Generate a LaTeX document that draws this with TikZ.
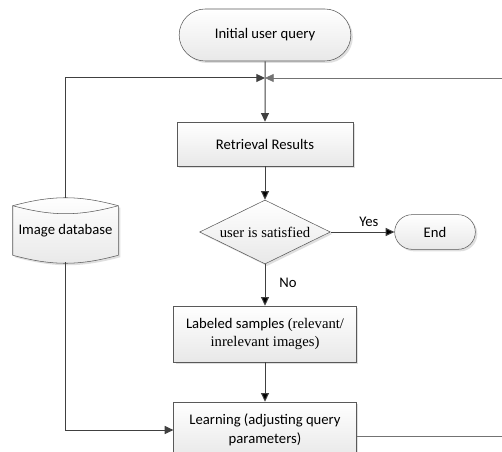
\documentclass[tikz,border=0pt]{standalone}
\usepackage{fontspec}
\setmainfont{Carlito}
\newfontfamily\timesfont{Liberation Serif}
\usetikzlibrary{positioning, arrows.meta, shapes.geometric, shapes.misc, shadows}
\tikzset{
    flowbox/.style={draw=black!65, rectangle, top color=white, bottom color=gray!18,
        drop shadow={shadow xshift=1.5pt, shadow yshift=-1.5pt, fill=black!25},
        align=center, inner sep=2pt, font=\fontsize{11}{14}\selectfont},
    terminal/.style={flowbox, rounded rectangle},
    decision/.style={flowbox, diamond, aspect=2, inner sep=0pt},
    storebox/.style={rectangle, minimum width=78.75pt, minimum height=36.75pt,
        font=\fontsize{11}{14}\selectfont},
    flow/.style={draw=black!75, line width=0.75pt, -{Triangle[length=6.5pt,width=6pt]}},
    feedback/.style={flow, draw=black!55, line width=0.6pt},
    lbl/.style={font=\fontsize{11}{14}\selectfont} }

\begin{document}
\begin{tikzpicture}[x=0.75pt, y=-0.75pt]
            \useasboundingbox (0,0) rectangle (502,452);
            \node[terminal, minimum width=132.75pt, minimum height=39pt] (query) at (265,35) {Initial user query};
			\coordinate (join) at (265,78);
			\node[flowbox, minimum width=132pt, minimum height=33pt] (results) at (265,144) {Retrieval Results};
			\node[decision, minimum width=98pt, minimum height=48pt] (check) at (265,232) {\timesfont user is satisfied};
			\node[terminal, minimum width=64.5pt, minimum height=26pt] (stop) at (435,232) {End};
			\node[flowbox, minimum width=137pt, minimum height=42pt] (samples) at (265,334)
			    {Labeled samples {\timesfont(relevant/}\\{\timesfont inrelevant images)}};
			\node[flowbox, minimum width=137pt, minimum height=42pt] (learn) at (265,430)
			    {Learning (adjusting query\\parameters)};
			\node[storebox] (db) at (65.5,230.5) {Image database};
			\coordinate (feedR) at (520,436);
			% ----
			\draw[draw=black!65, top color=white, bottom color=gray!18,
			      drop shadow={shadow xshift=1.5pt, shadow yshift=-1.5pt, fill=black!25}]
			    (db.north west) to[out=15,in=165] (db.north east) -- (db.south east)
			    to[out=-165,in=-15] (db.south west) -- cycle;
			\draw[draw=black!65] (db.north west) to[out=-15,in=-165] (db.north east);
			\node[storebox] at (db) {Image database};
			% ----
			\draw[flow] (query) -- (results);
			\draw[flow] ([yshift=6pt]db.north) |- (join);
			\draw[feedback] ([yshift=-4.5pt]learn.east) -- (feedR) |- (join);
			\draw[flow] ([yshift=-5.25pt]db.south) |- (learn.west);
			\path[flow]
			    (results) edge (check)
			    (check) edge node[lbl, above, pos=0.6] {Yes} (stop)
			    (check) edge node[lbl, right, pos=0.45, xshift=7pt] {No} (samples)
			    (samples) edge (learn);
\end{tikzpicture}
\end{document}
